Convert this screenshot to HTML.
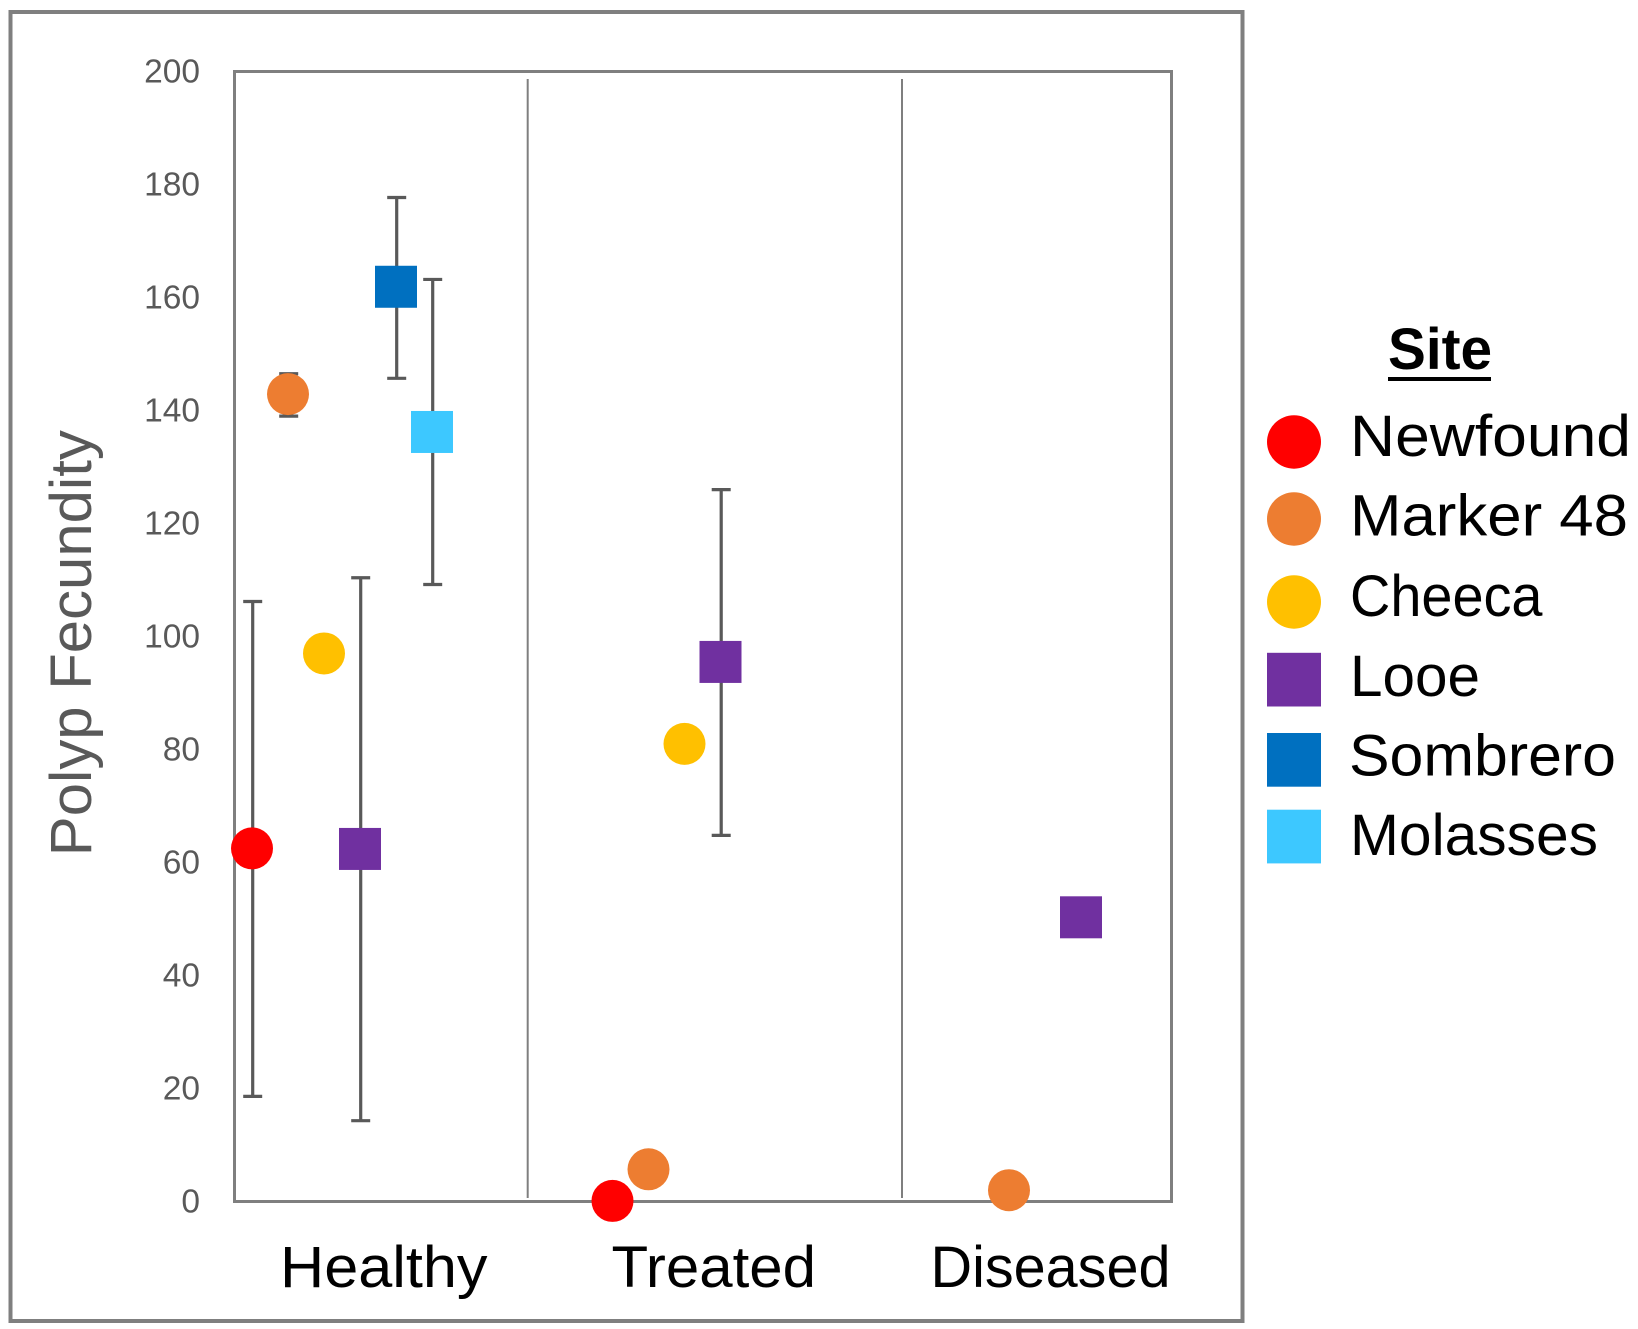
<!DOCTYPE html>
<html lang="en">
<head>
<meta charset="utf-8">
<title>Polyp Fecundity by Site and Condition</title>
<style>
  html, body { margin: 0; padding: 0; background: #fff; }
  svg { display: block; }
  text { font-family: "Liberation Sans", sans-serif; }
</style>
</head>
<body>
<svg id="chart" xmlns="http://www.w3.org/2000/svg" width="1638" height="1329" viewBox="0 0 1638 1329">
  <rect x="0" y="0" width="1638" height="1329" fill="#ffffff"/>
  <rect x="10.5" y="12" width="1232" height="1309" fill="none" stroke="#7f7f7f" stroke-width="4"/>
  <rect x="234.5" y="71.5" width="937" height="1130" fill="none" stroke="#7f7f7f" stroke-width="3"/>
  <line x1="527.7" y1="79" x2="527.7" y2="1198" stroke="#7f7f7f" stroke-width="2"/>
  <line x1="902" y1="79" x2="902" y2="1198" stroke="#7f7f7f" stroke-width="2"/>

  <g id="y-ticks"></g>
  <text transform="translate(91,856.2) rotate(-90)" font-size="58" fill="#595959" textLength="426" lengthAdjust="spacingAndGlyphs">Polyp Fecundity</text>

  <g id="error-bars"></g>
  <g id="points"></g>

  <text x="280" y="1287" font-size="58" fill="#000" textLength="207.5" lengthAdjust="spacingAndGlyphs">Healthy</text>
  <text x="611.5" y="1287" font-size="58" fill="#000" textLength="204.5" lengthAdjust="spacingAndGlyphs">Treated</text>
  <text x="930.5" y="1287" font-size="58" fill="#000" textLength="240" lengthAdjust="spacingAndGlyphs">Diseased</text>

  <g>
    <text x="1388" y="369" font-size="58" font-weight="bold" fill="#000" textLength="104" lengthAdjust="spacingAndGlyphs">Site</text>
    <rect x="1388" y="377" width="103" height="4" fill="#000"/>

    <ellipse cx="1294" cy="442" rx="27" ry="26.7" fill="#ff0000"/>
    <text x="1350" y="456" font-size="58" fill="#000" textLength="281" lengthAdjust="spacingAndGlyphs">Newfound</text>

    <ellipse cx="1294" cy="519" rx="27" ry="26.7" fill="#ed7d31"/>
    <text x="1350" y="535.7" font-size="58" fill="#000" textLength="278" lengthAdjust="spacingAndGlyphs">Marker 48</text>

    <ellipse cx="1294" cy="602" rx="27" ry="26.7" fill="#ffc000"/>
    <text x="1350" y="616" font-size="58" fill="#000" textLength="192.5" lengthAdjust="spacingAndGlyphs">Cheeca</text>

    <rect x="1267" y="652.8" width="54" height="53.7" fill="#7030a0"/>
    <text x="1350" y="696" font-size="58" fill="#000" textLength="130" lengthAdjust="spacingAndGlyphs">Looe</text>

    <rect x="1267" y="733" width="54" height="53.7" fill="#0070c0"/>
    <text x="1349" y="775.5" font-size="58" fill="#000" textLength="267" lengthAdjust="spacingAndGlyphs">Sombrero</text>

    <rect x="1267" y="809.7" width="54" height="53.7" fill="#3dc8ff"/>
    <text x="1350" y="855" font-size="58" fill="#000" textLength="248" lengthAdjust="spacingAndGlyphs">Molasses</text>
  </g>
</svg>

<script>
// Chart data. Order in each array: Healthy, Treated, Diseased.
const categories = ['Healthy', 'Treated', 'Diseased'];
const yTickLabels = [0, 20, 40, 60, 80, 100, 120, 140, 160, 180, 200];

const newfoundValues = [62.5, 0.1, null];
const newfoundErrHigh = [106.2, null, null];
const newfoundErrLow = [18.6, null, null];

const marker48Values = [142.9, 5.7, 2];
const marker48ErrHigh = [146.5, null, null];
const marker48ErrLow = [139, null, null];

const cheecaValues = [97, 81, null];
const cheecaErrHigh = [null, null, null];
const cheecaErrLow = [null, null, null];

const looeValues = [62.4, 95.5, 50.3];
const looeErrHigh = [110.4, 126, null];
const looeErrLow = [14.3, 64.8, null];

const sombreroValues = [161.9, null, null];
const sombreroErrHigh = [177.7, null, null];
const sombreroErrLow = [145.7, null, null];

const molassesValues = [136.2, null, null];
const molassesErrHigh = [163.2, null, null];
const molassesErrLow = [109.2, null, null];

const NS = 'http://www.w3.org/2000/svg';

function yScale(v) {
  return 1201.5 - v * 5.65;
}
function xScale(categoryIndex, seriesIndex) {
  return 252 + categoryIndex * 360.5 + seriesIndex * 36;
}
function make(tag, attrs, parent) {
  const el = document.createElementNS(NS, tag);
  Object.keys(attrs).forEach(function (k) { el.setAttribute(k, attrs[k]); });
  parent.appendChild(el);
  return el;
}

const tickGroup = document.getElementById('y-ticks');
yTickLabels.forEach(function (t) {
  const label = make('text', {
    x: 200, y: yScale(t) + 11, 'text-anchor': 'end', 'font-size': 33.5, fill: '#595959'
  }, tickGroup);
  
  
  label.textContent = String(t);
});

const seriesList = [
  { key: 'newfound', shape: 'circle', color: '#ff0000', values: newfoundValues, high: newfoundErrHigh, low: newfoundErrLow },
  { key: 'marker-48', shape: 'circle', color: '#ed7d31', values: marker48Values, high: marker48ErrHigh, low: marker48ErrLow },
  { key: 'cheeca', shape: 'circle', color: '#ffc000', values: cheecaValues, high: cheecaErrHigh, low: cheecaErrLow },
  { key: 'looe', shape: 'square', color: '#7030a0', values: looeValues, high: looeErrHigh, low: looeErrLow },
  { key: 'sombrero', shape: 'square', color: '#0070c0', values: sombreroValues, high: sombreroErrHigh, low: sombreroErrLow },
  { key: 'molasses', shape: 'square', color: '#3dc8ff', values: molassesValues, high: molassesErrHigh, low: molassesErrLow }
];

const errGroup = document.getElementById('error-bars');
const pointGroup = document.getElementById('points');
const errColor = '#595959';
const errWidth = 3.2;
const capHalf = 9.5;
const markerRadius = 21;

seriesList.forEach(function (s, si) {
  categories.forEach(function (cat, ci) {
    const v = s.values[ci];
    if (v === null) return;
    const cx = xScale(ci, si);
    const cy = yScale(v);

    if (s.high[ci] !== null && s.low[ci] !== null) {
      const ex = cx + 0.7;
      const yHigh = yScale(s.high[ci]);
      const yLow = yScale(s.low[ci]);
      const stem = make('line', { x1: ex, y1: yHigh, x2: ex, y2: yLow, stroke: errColor, 'stroke-width': errWidth }, errGroup);
      
      
      const capTop = make('line', { x1: ex - capHalf, y1: yHigh, x2: ex + capHalf, y2: yHigh, stroke: errColor, 'stroke-width': errWidth }, errGroup);
      
      
      const capBottom = make('line', { x1: ex - capHalf, y1: yLow, x2: ex + capHalf, y2: yLow, stroke: errColor, 'stroke-width': errWidth }, errGroup);
      
      
    }

    let mark;
    if (s.shape === 'circle') {
      mark = make('circle', { cx: cx, cy: cy, r: markerRadius, fill: s.color }, pointGroup);
    } else {
      mark = make('rect', { x: cx - markerRadius, y: cy - markerRadius, width: markerRadius * 2, height: markerRadius * 2, fill: s.color }, pointGroup);
    }
    
    
  });
});
</script>
</body>
</html>
